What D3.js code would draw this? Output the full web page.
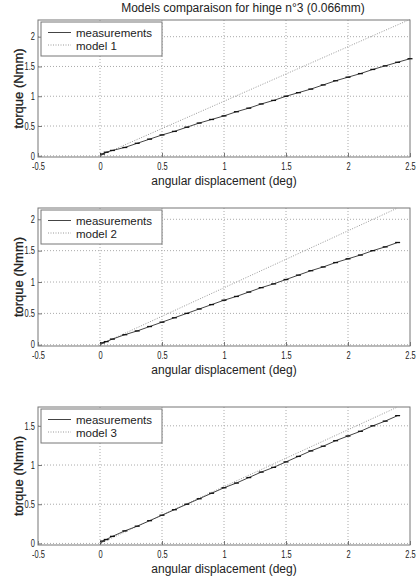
<!DOCTYPE html>
<html>
<head>
<meta charset="utf-8">
<script src="https://cdn.jsdelivr.net/npm/d3@7"></script>
<style>
  body { margin: 0; background: #fff; }
  svg { display: block; font-family: "Liberation Sans", Arial, sans-serif; }
</style>
</head>
<body>
<svg id="chart" width="419" height="583"></svg>
<script>
// measured torque vs angular displacement (hinge n°3)
var meas1 = [[0,-0.01],[0.02,0.03],[0.05,0.06],[0.1,0.09],[0.2,0.14],[0.3,0.21],[0.4,0.28],[0.5,0.35],
  [0.6,0.41],[0.7,0.48],[0.8,0.55],[0.9,0.61],[1.0,0.67],[1.1,0.74],[1.2,0.80],[1.3,0.87],[1.4,0.93],
  [1.5,1.00],[1.6,1.06],[1.7,1.12],[1.8,1.19],[1.9,1.26],[2.0,1.32],[2.1,1.38],[2.2,1.45],[2.3,1.51],
  [2.4,1.57],[2.5,1.63]]
var meas2 = [[0,-0.01],[0.02,0.03],[0.05,0.05],[0.1,0.09],[0.2,0.16],[0.3,0.22],[0.4,0.29],[0.5,0.36],
  [0.6,0.43],[0.7,0.50],[0.8,0.57],[0.9,0.64],[1.0,0.71],[1.1,0.77],[1.2,0.84],[1.3,0.91],[1.4,0.97],
  [1.5,1.04],[1.6,1.11],[1.7,1.18],[1.8,1.24],[1.9,1.31],[2.0,1.37],[2.1,1.43],[2.2,1.50],[2.3,1.56],
  [2.4,1.63]]
var model1 = [[0,0],[2.5,2.29]]
var model2 = [[0,0],[2.4,2.18]]
var model3 = [[0,0],[2.4,1.74]]

var xTicks = [-0.5,0,0.5,1,1.5,2,2.5]
var yTicks1 = [0,0.5,1,1.5,2]
var yTicks3 = [0,0.5,1,1.5]

var panels = [
  {top:20, bottom:157, meas:meas1, model:model1, name:"model 1", ymax:2.28, yticks:yTicks1},
  {top:208, bottom:346, meas:meas2, model:model2, name:"model 2", ymax:2.18, yticks:yTicks1},
  {top:407, bottom:545, meas:meas2, model:model3, name:"model 3", ymax:1.74, yticks:yTicks3}
]

const svg = d3.select("#chart")
const left = 38, right = 410

svg.append("text")
  .attr("x", 243).attr("y", 12)
  .attr("text-anchor", "middle")
  .attr("font-size", 12)
  .attr("fill", "#222")
  .text("Models comparaison for hinge n°3 (0.066mm)")

panels.forEach(p => {
  const x = d3.scaleLinear().domain([-0.5, 2.5]).range([left, right])
  const y = d3.scaleLinear().domain([-0.02, p.ymax]).range([p.bottom, p.top])
  const g = svg.append("g")

  // grid
  g.selectAll(".gx").data(xTicks.slice(1, -1)).enter().append("line")
    .attr("x1", d => x(d)).attr("x2", d => x(d))
    .attr("y1", p.top).attr("y2", p.bottom)
    .attr("stroke", "#aaa").attr("stroke-dasharray", "1,2")
  g.selectAll(".gy").data(p.yticks).enter().append("line")
    .attr("x1", left).attr("x2", right)
    .attr("y1", d => y(d)).attr("y2", d => y(d))
    .attr("stroke", "#aaa").attr("stroke-dasharray", "1,2")

  // frame
  g.append("rect")
    .attr("x", left).attr("y", p.top)
    .attr("width", right - left).attr("height", p.bottom - p.top)
    .attr("fill", "none").attr("stroke", "#777")

  // axes
  const xAxis = d3.axisBottom(x).tickValues(xTicks).tickSize(-4)
    .tickFormat(d => String(d))
  const xg = g.append("g").attr("transform", `translate(0,${p.bottom})`).call(xAxis)
  const yAxis = d3.axisLeft(y).tickValues(p.yticks).tickSize(-4)
    .tickFormat(d => String(d))
  const yg = g.append("g").attr("transform", `translate(${left},0)`).call(yAxis)
  ;[xg, yg].forEach(a => {
    a.select(".domain").remove()
    a.selectAll(".tick line").attr("stroke", "#777")
    a.selectAll(".tick text").attr("font-size", 10).attr("fill", "#222")
      .attr("font-family", "Liberation Sans, Arial, sans-serif")
  })
  // narrow tick labels, like the original
  xg.selectAll(".tick text").attr("y", null).attr("dy", null)
    .attr("transform", "translate(0,13) scale(0.75,1)")
  yg.selectAll(".tick text").attr("x", null)
    .attr("transform", "translate(-3,0) scale(0.75,1)")

  // labels
  g.append("text")
    .attr("x", (left + right) / 2).attr("y", p.bottom + 28)
    .attr("text-anchor", "middle").attr("font-size", 12).attr("fill", "#222")
    .text("angular displacement (deg)")
  g.append("text")
    .attr("transform", `translate(23,${(p.top + p.bottom) / 2}) rotate(-90)`)
    .attr("text-anchor", "middle").attr("font-size", 13).attr("fill", "#222")
    .attr("stroke", "#222").attr("stroke-width", 0.3)
    .text("torque (Nmm)")

  const line = d3.line().x(d => x(d[0])).y(d => y(d[1]))

  g.append("path").datum(p.model).attr("d", line)
    .attr("fill", "none").attr("stroke", "#999").attr("stroke-dasharray", "1,1.5")
  g.append("path").datum(p.meas).attr("d", line)
    .attr("fill", "none").attr("stroke", "#444").attr("stroke-width", 1)
  g.selectAll(".step").data(p.meas.slice(1)).enter().append("line")
    .attr("x1", d => x(d[0]) - 2.5).attr("x2", d => x(d[0]) + 2.5)
    .attr("y1", d => y(d[1])).attr("y2", d => y(d[1]))
    .attr("stroke", "#111").attr("stroke-width", 1.3)

  // legend
  const lg = g.append("g").attr("transform", `translate(41,${p.top + 2})`)
  lg.append("rect").attr("width", 121).attr("height", 34)
    .attr("fill", "#fff").attr("stroke", "#777")
  lg.append("line").attr("x1", 7).attr("x2", 30).attr("y1", 10.5).attr("y2", 10.5)
    .attr("stroke", "#444")
  lg.append("line").attr("x1", 7).attr("x2", 30).attr("y1", 23).attr("y2", 23)
    .attr("stroke", "#999").attr("stroke-dasharray", "1,1.5")
  lg.append("text").attr("x", 35).attr("y", 14.5).attr("font-size", 11.5).attr("fill", "#222")
    .text("measurements")
  lg.append("text").attr("x", 35).attr("y", 27.5).attr("font-size", 11.5).attr("fill", "#222")
    .text(p.name)
})
</script>
</body>
</html>
